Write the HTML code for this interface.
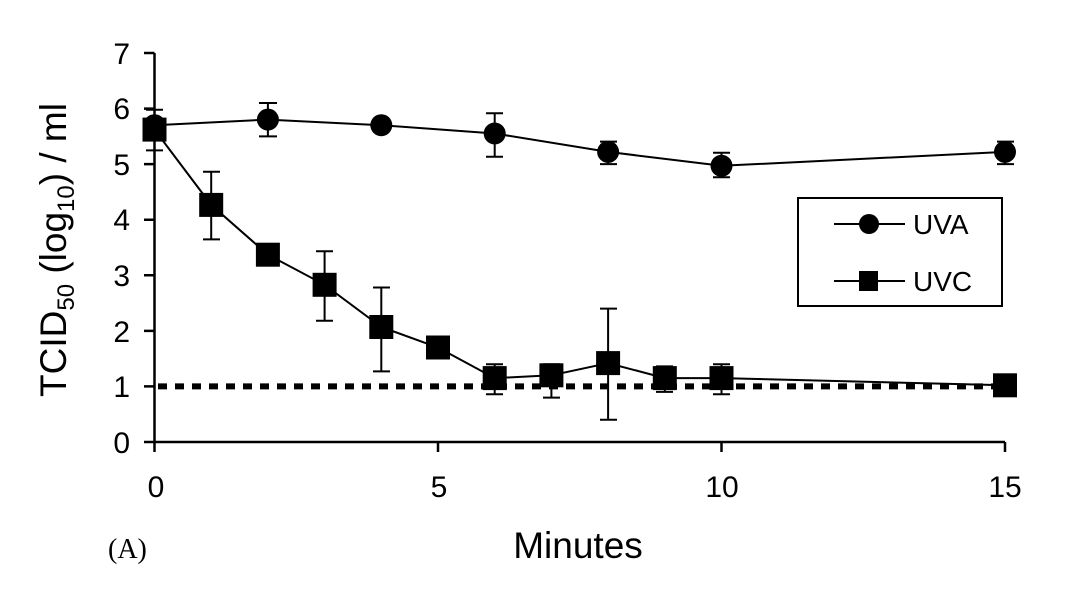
<!DOCTYPE html>
<html><head><meta charset="utf-8"><style>body{margin:0;background:#fff}svg{display:block}</style></head><body>
<svg width="1080" height="589" viewBox="0 0 1080 589" xmlns="http://www.w3.org/2000/svg" font-family="Liberation Sans, Arial, sans-serif">
<g stroke="#000" stroke-width="2.5" fill="none">
<line x1="154.5" y1="53" x2="154.5" y2="442"/>
<line x1="144" y1="442" x2="1005" y2="442"/>
<path d="M144 53H154.5M144 108.6H154.5M144 164.1H154.5M144 219.7H154.5M144 275.3H154.5M144 330.9H154.5M144 386.4H154.5"/>
<path d="M154.5 442V452M438 442V452M721.5 442V452M1005 442V452"/>
</g>
<line x1="158" y1="386.4" x2="1005" y2="386.4" stroke="#000" stroke-width="6" stroke-dasharray="9,8"/>
<g font-size="30" text-anchor="end">
<text x="130" y="64">7</text><text x="130" y="119">6</text><text x="130" y="175">5</text><text x="130" y="230">4</text><text x="130" y="286">3</text><text x="130" y="342">2</text><text x="130" y="397">1</text><text x="130" y="453">0</text>
</g>
<g font-size="30" text-anchor="middle">
<text x="156" y="497">0</text><text x="439" y="497">5</text><text x="722" y="497">10</text><text x="1005" y="497">15</text>
</g>
<text x="578" y="558" font-size="37" text-anchor="middle">Minutes</text>
<text x="108" y="558" font-size="28" font-family="Liberation Serif, serif">(A)</text>
<text transform="translate(66,250) rotate(-90)" font-size="37" text-anchor="middle">TCID<tspan font-size="24" dy="8">50</tspan><tspan dy="-8"> (log</tspan><tspan font-size="24" dy="8">10</tspan><tspan dy="-8">) / ml</tspan></text>
<g stroke="#000" stroke-width="2" fill="none">
<path d="M154.5 109.7V150.4M146 109.7H163M146 150.4H163"/>
<path d="M267.9 103V136.4M259 103H277M259 136.4H277"/>
<path d="M494.7 113.2V156.7M486 113.2H503M486 156.7H503"/>
<path d="M608.1 141.6V164.1M600 141.6H617M600 164.1H617"/>
<path d="M721.5 152.7V177.2M713 152.7H730M713 177.2H730"/>
<path d="M1005 141.6V164.1M997 141.6H1014M997 164.1H1014"/>
<path d="M211.2 171.7V239.4M203 171.7H220M203 239.4H220"/>
<path d="M324.6 251.3V320.8M316 251.3H333M316 320.8H333"/>
<path d="M381.3 287.5V371.4M373 287.5H390M373 371.4H390"/>
<path d="M494.7 364.2V394.2M486 364.2H503M486 394.2H503"/>
<path d="M551.4 364.2V397.6M543 364.2H560M543 397.6H560"/>
<path d="M608.1 308.6V419.8M600 308.6H617M600 419.8H617"/>
<path d="M664.8 366.4V391.9M656 366.4H673M656 391.9H673"/>
<path d="M721.5 364.2V394.2M713 364.2H730M713 394.2H730"/>
<polyline points="154.5,125.2 267.9,119.6 381.3,125.2 494.7,133.5 608.1,151.9 721.5,165.8 1005,151.9"/>
<polyline points="154.5,129.6 211.2,204.9 267.9,254.7 324.6,284.8 381.3,327.0 438,347.5 494.7,378.1 551.4,375.3 608.1,363.1 664.8,378.1 721.5,378.1 1005,385.3"/>
</g>
<g fill="#000">
<circle cx="154.5" cy="125.2" r="11"/><circle cx="267.9" cy="119.6" r="11"/><circle cx="381.3" cy="125.2" r="11"/><circle cx="494.7" cy="133.5" r="11"/><circle cx="608.1" cy="151.9" r="11"/><circle cx="721.5" cy="165.8" r="11"/><circle cx="1005" cy="151.9" r="11"/>
<g transform="translate(-12,-12)">
<rect x="154.5" y="129.6" width="24" height="24"/><rect x="211.2" y="204.9" width="24" height="24"/><rect x="267.9" y="254.7" width="24" height="24"/><rect x="324.6" y="284.8" width="24" height="24"/><rect x="381.3" y="327.0" width="24" height="24"/><rect x="438" y="347.5" width="24" height="24"/><rect x="494.7" y="378.1" width="24" height="24"/><rect x="551.4" y="375.3" width="24" height="24"/><rect x="608.1" y="363.1" width="24" height="24"/><rect x="664.8" y="378.1" width="24" height="24"/><rect x="721.5" y="378.1" width="24" height="24"/><rect x="1005" y="385.3" width="24" height="24"/>
</g>
</g>
<rect x="798" y="198" width="204" height="108" fill="#fff" stroke="#000" stroke-width="2"/>
<line x1="834" y1="224" x2="905" y2="224" stroke="#000" stroke-width="2"/>
<circle cx="869" cy="224" r="10" fill="#000"/>
<line x1="834" y1="281" x2="905" y2="281" stroke="#000" stroke-width="2"/>
<rect x="859" y="271" width="19" height="20" fill="#000"/>
<text x="913" y="234" font-size="28">UVA</text>
<text x="913" y="291" font-size="28">UVC</text>
</svg>
</body></html>
